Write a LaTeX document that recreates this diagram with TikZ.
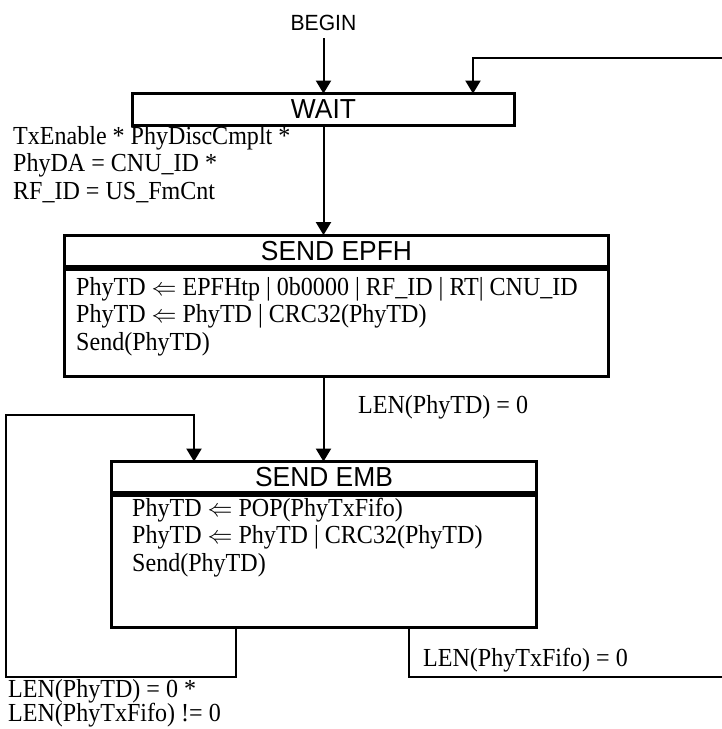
\documentclass[tikz,border=0pt]{standalone}
\usepackage{fontspec}
\setmainfont[FakeStretch=0.925]{Liberation Serif}
\newfontfamily\hdrfont[FakeStretch=0.96]{Liberation Sans}
\usetikzlibrary{arrows.meta}
\begin{document}
\begin{tikzpicture}[x=1pt,y=-1pt,
  box/.style={draw,line width=3.2pt,inner sep=0pt,outer sep=0pt},
  conn/.style={line width=2pt},
  arr/.style={conn,-{Triangle[width=15pt,length=13pt]}},
  title/.style={font=\hdrfont\fontsize{27.5}{30}\selectfont},
  cond/.style={font=\fontsize{26}{27.5}\selectfont,inner sep=0pt,anchor=base west}]
\useasboundingbox (0,0) rectangle (722,729);
\clip (0,0) rectangle (722,729);

% start marker
\node[font=\hdrfont\fontsize{22}{24}\selectfont,inner sep=0pt,anchor=base] (begin) at (323.5,30) {BEGIN};

% states
\node[box,title,minimum width=381.8pt,minimum height=31.8pt] (wait) at (323.5,109.5) {WAIT};

\node[box,title,minimum width=543.8pt,minimum height=31.8pt] (epfhHead) at (336.5,251) {SEND EPFH};
\node[box,minimum width=543.8pt,minimum height=106.8pt] (epfhBody) at (336.5,323) {};
\node[cond] (epfhText) at (76,295) {\begin{tabular}[t]{@{}l@{}}
PhyTD $\Leftarrow$ EPFHtp | 0b0000 | RF\_ID | RT| CNU\_ID\\
PhyTD $\Leftarrow$ PhyTD | CRC32(PhyTD)\\
Send(PhyTD)\end{tabular}};

\node[box,title,minimum width=424.8pt,minimum height=30.8pt] (embHead) at (324,477) {SEND EMB};
\node[box,minimum width=424.8pt,minimum height=131.8pt] (embBody) at (324,561.5) {};
\node[cond] (embText) at (132,516) {\begin{tabular}[t]{@{}l@{}}
PhyTD $\Leftarrow$ POP(PhyTxFifo)\\
PhyTD $\Leftarrow$ PhyTD | CRC32(PhyTD)\\
Send(PhyTD)\end{tabular}};

% transition conditions
\node[cond] (condStart) at (13,144) {\begin{tabular}[t]{@{}l@{}}
TxEnable * PhyDiscCmplt *\\
PhyDA = CNU\_ID *\\
RF\_ID = US\_FmCnt\end{tabular}};
\node[cond] (condHdr) at (358,413) {LEN(PhyTD) = 0};
\node[cond] (condDone) at (423,666) {LEN(PhyTxFifo) = 0};
\node[cond] (condMore) at (8,697) {\begin{tabular}[t]{@{}l@{}}
LEN(PhyTD) = 0 *\\[-3pt]
LEN(PhyTxFifo) != 0\end{tabular}};

% loop corners
\coordinate (ra) at (473,58);
\coordinate (rtr) at (745,58);
\coordinate (rbr) at (745,677);
\coordinate (rb) at (409,677);
\coordinate (lb) at (236,677);
\coordinate (ll) at (6,677);
\coordinate (lt) at (6,415);
\coordinate (la) at (194,415);

% transitions
\draw[arr,shorten <=8pt] (begin.south) -- (wait.north);
\draw[arr] (wait.south) -- (wait.south |- epfhHead.north);
\draw[arr] (wait.south |- epfhBody.south) -- (wait.south |- embHead.north);
\draw[arr] (embBody.south -| lb) -- (lb) -- (ll) -- (lt) -- (la) -- (la |- embHead.north);
\draw[arr] (embBody.south -| rb) -- (rb) -- (rbr) -- (rtr) -- (ra) -- (ra |- wait.north);
\end{tikzpicture}
\end{document}
